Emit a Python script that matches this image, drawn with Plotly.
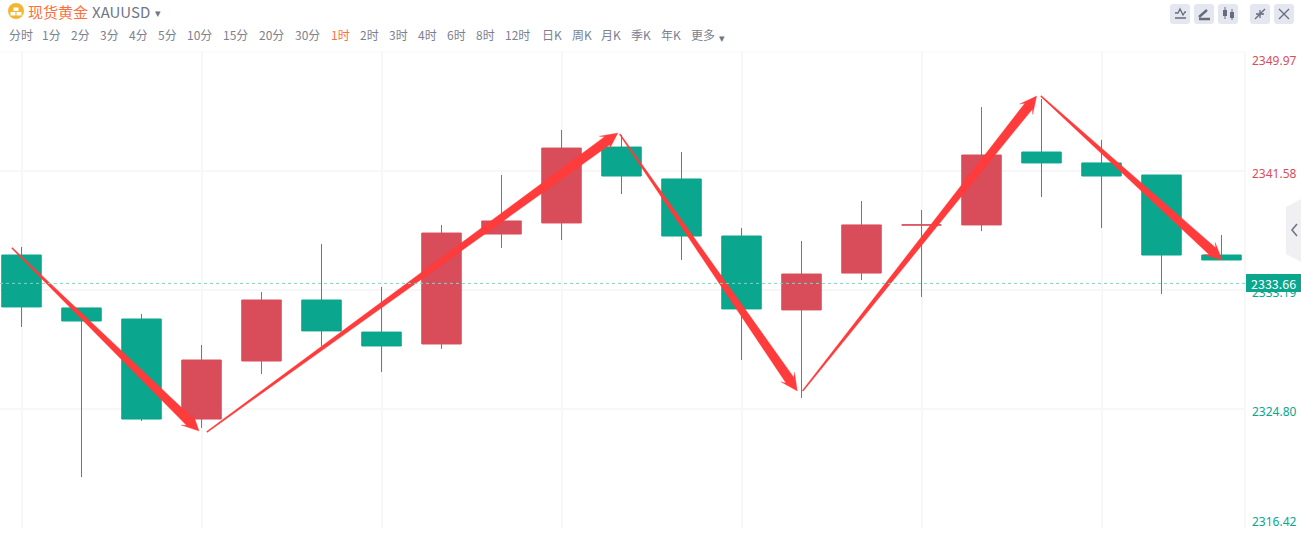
import math
import plotly.graph_objects as go

# ---- data -----------------------------------------------------------------
candle_index = list(range(21))
open_price = [2335.66, 2331.93, 2331.15, 2324.10, 2328.19, 2332.49, 2330.23, 2329.39, 2337.14, 2337.92,
              2343.27, 2341.02, 2337.00, 2331.79, 2334.39, 2337.78, 2337.78, 2342.92, 2342.15, 2341.30, 2335.66]
close_price = [2332.00, 2331.01, 2324.10, 2328.26, 2332.49, 2330.31, 2329.25, 2337.21, 2338.06, 2343.20,
               2341.23, 2337.00, 2331.86, 2334.32, 2337.78, 2337.78, 2342.71, 2342.15, 2341.23, 2335.66, 2335.31]
high_price = [2336.23, 2331.93, 2331.50, 2329.32, 2333.05, 2336.44, 2333.41, 2337.78, 2341.30, 2344.47,
              2344.12, 2342.92, 2337.56, 2336.65, 2339.47, 2338.83, 2346.09, 2346.66, 2343.77, 2341.30, 2337.07]
low_price = [2330.59, 2320.01, 2323.96, 2323.47, 2327.27, 2329.25, 2327.42, 2329.04, 2336.16, 2336.72,
             2339.96, 2335.31, 2328.26, 2325.58, 2333.90, 2332.70, 2337.35, 2339.75, 2337.56, 2332.91, 2335.31]

price_ticks = [2349.97, 2341.58, 2333.19, 2324.80, 2316.42]
last_price = 2333.66
periods = ["分时", "1分", "2分", "3分", "4分", "5分", "10分", "15分", "20分", "30分", "1时", "2时", "3时",
           "4时", "6时", "8时", "12时", "日K", "周K", "月K", "季K", "年K", "更多"]
period_left = [9, 42, 71, 100, 129, 158, 187, 223, 259, 295, 331, 360, 389, 418, 447, 476, 505, 542, 572, 601, 631, 661, 691]

arrow_start_x = [-0.16, 3.09, 9.97, 13.02, 16.99]
arrow_start_y = [2336.16, 2323.19, 2344.19, 2326.08, 2346.87]
arrow_end_x = [2.96, 9.94, 12.93, 16.92, 20.01]
arrow_end_y = [2323.26, 2344.26, 2326.08, 2346.87, 2335.31]

# ---- style / layout --------------------------------------------------------
W, H = 1301, 548
L, R, T, B = 0, 1245, 52, 528
GREEN = "#0aa68d"
RED = "#d94d5a"
ARROW = "#ff3b3b"
GRID = "#f7f7fa"
GREY = "#7b8190"
CJK = "Noto Sans CJK SC, Noto Sans, sans-serif"
SLOT = 60.0
x_range = [-21.5 / SLOT, (R - 21.5) / SLOT]
y_range = [price_ticks[-1], price_ticks[0]]
PX_PER_PRICE = (B - T) / (y_range[1] - y_range[0])


def px(x):
    return (x - L) / (R - L)


def py(y):
    return (B - y) / (B - T)


def wedge(x0, y0, x1, y1):
    """Tapered arrow polygon, shaped in screen pixels, returned in data units."""
    ax, ay = x0 * SLOT, -y0 * PX_PER_PRICE
    bx, by = x1 * SLOT, -y1 * PX_PER_PRICE
    d = math.hypot(bx - ax, by - ay)
    ux, uy = (bx - ax) / d, (by - ay) / d
    nx, ny = -uy, ux
    head, neck_back, neck, barb, tail = 17.0, 13.0, 4.8, 8.4, 0.6
    cx, cy = bx - ux * neck_back, by - uy * neck_back
    ex, ey = bx - ux * head, by - uy * head
    pts = [(ax + nx * tail, ay + ny * tail), (cx + nx * neck, cy + ny * neck),
           (ex + nx * barb, ey + ny * barb), (bx, by),
           (ex - nx * barb, ey - ny * barb), (cx - nx * neck, cy - ny * neck),
           (ax - nx * tail, ay - ny * tail)]
    pts.append(pts[0])
    return [p[0] / SLOT for p in pts], [-p[1] / PX_PER_PRICE for p in pts]


fig = go.Figure()
fig.add_trace(go.Candlestick(
    x=candle_index, open=open_price, high=high_price, low=low_price, close=close_price,
    increasing=dict(line=dict(color=RED, width=1), fillcolor=RED),
    decreasing=dict(line=dict(color=GREEN, width=1), fillcolor=GREEN),
    whiskerwidth=0, hoverinfo="skip", showlegend=False,
))
for sx, sy, ex, ey in zip(arrow_start_x, arrow_start_y, arrow_end_x, arrow_end_y):
    wx, wy = wedge(sx, sy, ex, ey)
    fig.add_trace(go.Scatter(x=wx, y=wy, mode="lines", fill="toself", fillcolor=ARROW,
                             line=dict(color=ARROW, width=0.3), hoverinfo="skip", showlegend=False))

shapes = [
    dict(type="line", xref="paper", yref="y", x0=0, x1=1, y0=last_price, y1=last_price,
         line=dict(color="#7fd4c3", width=1, dash="3px,3px"), layer="above"),
    dict(type="rect", xref="paper", yref="paper", x0=px(1246), x1=px(1301), y0=py(292), y1=py(274),
         fillcolor=GREEN, line=dict(width=0), layer="above"),
    dict(type="line", xref="paper", yref="paper", x0=0, x1=1, y0=1, y1=1, line=dict(color=GRID, width=1), layer="below"),
    dict(type="line", xref="paper", yref="paper", x0=1, x1=1, y0=0, y1=1, line=dict(color="#eeeff3", width=1), layer="below"),
    # gold badge
    dict(type="circle", xref="paper", yref="paper", x0=px(8), x1=px(24), y0=py(19), y1=py(3),
         fillcolor="#f2b632", line=dict(width=0), layer="above"),
    dict(type="rect", xref="paper", yref="paper", x0=px(13.5), x1=px(18.5), y0=py(11), y1=py(7.5),
         fillcolor="#ffffff", line=dict(width=0), layer="above"),
    dict(type="rect", xref="paper", yref="paper", x0=px(10.5), x1=px(15.5), y0=py(15.5), y1=py(12),
         fillcolor="#ffffff", line=dict(width=0), layer="above"),
    dict(type="rect", xref="paper", yref="paper", x0=px(16.5), x1=px(21.5), y0=py(15.5), y1=py(12),
         fillcolor="#ffffff", line=dict(width=0), layer="above"),
    # side tab
    dict(type="path", xref="paper", yref="paper", layer="above", fillcolor="#f0f0f3", line=dict(width=0),
         path=f"M {px(1301)} {py(199)} L {px(1286)} {py(207)} L {px(1286)} {py(254)} L {px(1301)} {py(262)} Z"),
    dict(type="path", xref="paper", yref="paper", layer="above", line=dict(color="#6f7686", width=1.6),
         path=f"M {px(1297)} {py(224)} L {px(1292)} {py(230)} L {px(1297)} {py(236)}"),
]
for left in [1170, 1194, 1218, 1250, 1274]:
    r = 3
    x0, x1, y0, y1 = left, left + 20, 4, 24
    shapes.append(dict(type="path", xref="paper", yref="paper", layer="above", fillcolor="#e4e7ef", line=dict(width=0),
                       path=(f"M {px(x0 + r)} {py(y0)} L {px(x1 - r)} {py(y0)} Q {px(x1)} {py(y0)} {px(x1)} {py(y0 + r)} "
                             f"L {px(x1)} {py(y1 - r)} Q {px(x1)} {py(y1)} {px(x1 - r)} {py(y1)} "
                             f"L {px(x0 + r)} {py(y1)} Q {px(x0)} {py(y1)} {px(x0)} {py(y1 - r)} "
                             f"L {px(x0)} {py(y0 + r)} Q {px(x0)} {py(y0)} {px(x0 + r)} {py(y0)} Z")))


def glyph(path_pts, color="#666c7c", width=1.3):
    d = ""
    for seg in path_pts:
        d += "M " + " L ".join(f"{px(a)} {py(b)}" for a, b in seg) + " "
    shapes.append(dict(type="path", xref="paper", yref="paper", layer="above", path=d.strip(),
                       line=dict(color=color, width=width)))


# toolbar icons
glyph([[(1175, 13), (1178, 13), (1180, 9), (1183, 15), (1185, 12), (1186, 12)], [(1175, 18), (1186, 18)]])
glyph([[(1199, 17), (1207, 10)], [(1199, 19), (1210, 19)]], width=2.4)
glyph([[(1225, 7), (1225, 19)], [(1232, 9), (1232, 20)]], width=1)
glyph([[(1225, 10), (1225, 16)], [(1232, 12), (1232, 18)]], width=4)
glyph([[(1255, 19), (1259, 15)], [(1265, 9), (1261, 13)], [(1256, 14), (1260, 14), (1260, 18)], [(1264, 14), (1260, 14), (1260, 10)]])
glyph([[(1279, 9), (1289, 19)], [(1289, 9), (1279, 19)]])


def label(text, x, y, color=GREY, size=12, anchor="left", family=CJK, **extra):
    return dict(text=text, xref="paper", yref="paper", x=px(x), y=py(y), showarrow=False,
                xanchor=anchor, yanchor="middle", font=dict(color=color, size=size, family=family),
                xshift=0, yshift=0, align="left", **extra)


annotations = [
    label("现货黄金", 26, 11, color="#ff6f3d", size=15),
    label("XAUUSD", 90, 11, color="#6f7686", size=15),
    label("▾", 153, 12, color="#6f7686", size=11),
    label("▾", 717, 37, color="#6f7686", size=11),
    label(f"{last_price:.2f}", 1273.5, 283.5, color="#ffffff", size=12.5, anchor="center"),
    dict(text=f"{price_ticks[0]:.2f}", xref="paper", yref="y", x=px(1250), y=price_ticks[0], yshift=-8,
         showarrow=False, xanchor="left", yanchor="middle", font=dict(color=RED, size=12, family="Noto Sans")),
    dict(text=f"{price_ticks[-1]:.2f}", xref="paper", yref="y", x=px(1250), y=price_ticks[-1], yshift=7,
         showarrow=False, xanchor="left", yanchor="middle", font=dict(color=GREEN, size=12, family="Noto Sans")),
]
for name, left in zip(periods, period_left):
    active = name == "1时"
    annotations.append(label(name, left - 2, 35, color="#ff6f3d" if active else GREY, size=12))

mid_ticks = price_ticks[1:-1]
mid_colors = [RED, GREEN, GREEN]
fig.update_layout(
    width=W, height=H, autosize=False,
    margin=dict(l=L, r=W - R, t=T, b=H - B, pad=0),
    paper_bgcolor="#ffffff", plot_bgcolor="#ffffff",
    showlegend=False, boxgap=0.06, dragmode=False,
    shapes=shapes, annotations=annotations,
    xaxis=dict(range=x_range, rangeslider=dict(visible=False), tickmode="linear", tick0=0, dtick=3,
               showticklabels=False, ticks="", showgrid=True, gridcolor=GRID, gridwidth=2, zeroline=False,
               showline=False, fixedrange=True),
    yaxis=dict(range=y_range, side="right", tickmode="array", tickvals=price_ticks,
               ticktext=["", *[f'<span style="color:{c}">{v:.2f}</span>' for v, c in zip(mid_ticks, mid_colors)], ""],
               ticks="", ticklen=0, ticklabelstandoff=6, ticklabelshift=3, showgrid=True, gridcolor=GRID, gridwidth=2,
               zeroline=False, showline=False, fixedrange=True,
               tickfont=dict(size=12, family="Noto Sans", color=GREEN)),
)

fig.write_html("out.html", config=dict(displayModeBar=False),
               post_script="document.body.style.margin='0';")
